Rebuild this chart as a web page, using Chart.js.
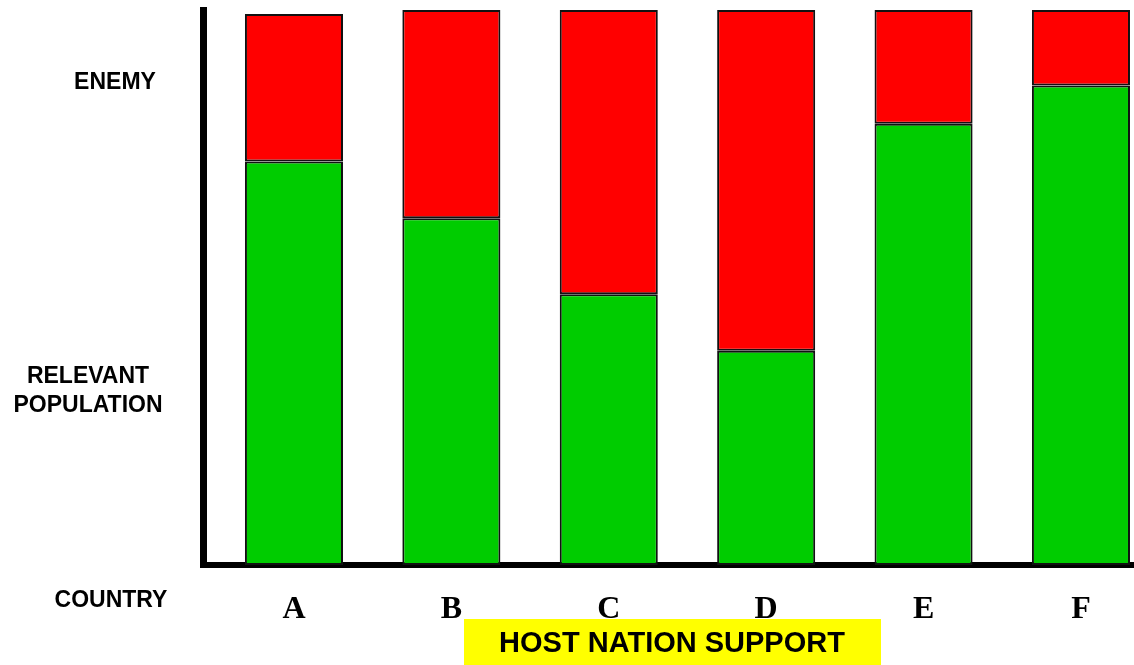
<!DOCTYPE html>
<html>
<head>
<meta charset="utf-8">
<script src="https://cdn.jsdelivr.net/npm/chart.js@4.4.1/dist/chart.umd.min.js"></script>
<style>
  html, body { margin: 0; padding: 0; background: #fff; overflow: hidden; }
  #wrap { width: 1134px; height: 665px; position: relative; }
</style>
</head>
<body>
<div id="wrap"><canvas id="chart"></canvas></div>
<script>
// countries along the bottom
const countries = ['A', 'B', 'C', 'D', 'E', 'F'];
// green part (relevant population / host nation support)
const populationValues = [72.7, 62.5, 48.8, 38.6, 79.5, 86.4];
// red part on top (enemy)
const enemyValues = [26.6, 37.5, 51.2, 61.4, 20.5, 13.6];

const sideLabels = {
  enemy: 'ENEMY',
  population: ['RELEVANT', 'POPULATION'],
  country: 'COUNTRY',
  support: 'HOST NATION SUPPORT'
};

const labelFont = 'bold 23px "Liberation Sans", Arial, sans-serif';

// draws the left-hand captions and the yellow box under the axis
const extraText = {
  id: 'extraText',
  afterDraw(chart) {
    const ctx = chart.ctx;
    ctx.save();
    ctx.fillStyle = '#000';
    ctx.font = labelFont;
    ctx.textAlign = 'center';
    ctx.textBaseline = 'middle';
    ctx.fillText(sideLabels.enemy, 115, 83);
    ctx.fillText(sideLabels.population[0], 88, 377);
    ctx.fillText(sideLabels.population[1], 88, 406);
    ctx.fillText(sideLabels.country, 111, 601);

    ctx.fillStyle = '#ffff00';
    ctx.fillRect(464, 619, 417, 46);
    ctx.fillStyle = '#000';
    ctx.font = 'bold 29px "Liberation Sans", Arial, sans-serif';
    ctx.fillText(sideLabels.support, 672, 644);
    ctx.restore();
  }
};

const ctx = document.getElementById('chart').getContext('2d');
new Chart(ctx, {
  type: 'bar',
  data: {
    datasets: [
      {
        label: 'Relevant population',
        data: countries.map((c, i) => ({ x: i, y: populationValues[i] })),
        backgroundColor: '#00cc00',
        borderColor: '#111',
        borderWidth: 2,
        borderSkipped: false
      },
      {
        label: 'Enemy',
        data: countries.map((c, i) => ({ x: i, y: enemyValues[i] })),
        backgroundColor: '#ff0000',
        borderColor: '#111',
        borderWidth: 2,
        borderSkipped: false
      }
    ]
  },
  options: {
    responsive: true,
    maintainAspectRatio: false,
    animation: false,
    layout: { padding: { left: 203, top: 10, right: 0, bottom: 0 } },
    plugins: {
      legend: { display: false },
      tooltip: { enabled: false }
    },
    datasets: {
      bar: { categoryPercentage: 1, barPercentage: 0.623 }
    },
    scales: {
      x: {
        type: 'linear',
        stacked: true,
        offset: false,
        min: -0.578,
        max: 5.337,
        afterBuildTicks: (scale) => {
          scale.ticks = countries.map((c, i) => ({ value: i }));
        },
        afterFit: (scale) => { scale.height = 100; },
        grid: { display: false, drawTicks: false, offset: false },
        border: { display: true, color: '#000', width: 6 },
        ticks: {
          padding: 26,
          color: '#000',
          font: { family: '"Liberation Serif", "Times New Roman", serif', size: 32, weight: 'bold' },
          callback: (v) => countries[v] || ''
        }
      },
      y: {
        stacked: true,
        min: 0,
        max: 100,
        afterFit: (scale) => { scale.width = 0; },
        grid: { display: false, drawTicks: false },
        border: { display: true, color: '#000', width: 7 },
        ticks: { display: false }
      }
    }
  },
  plugins: [extraText]
});
</script>
</body>
</html>
